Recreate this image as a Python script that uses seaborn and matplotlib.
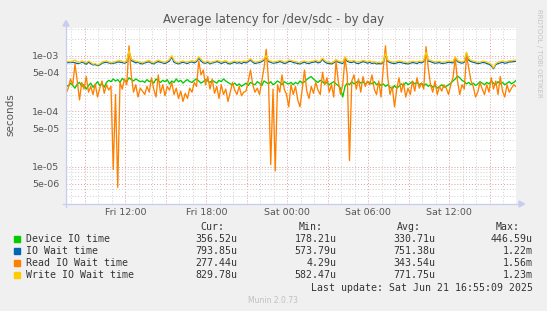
import numpy as np
import pandas as pd
import matplotlib
matplotlib.use("Agg")
import matplotlib.pyplot as plt
import seaborn as sns
from matplotlib.patches import Polygon, Rectangle
from matplotlib.lines import Line2D

# ---------------- data (values in microseconds) ----------------
START_HOUR = 7.6      # hours after Fri 00:00 at the left edge
STEP_MIN = 10         # sample step

device_io_us = [
    300, 280, 320, 290, 260, 310, 330, 280, 300, 250, 290, 320, 270, 300, 340, 290, 310, 270, 330, 360,
    340, 380, 350, 370, 330, 390, 360, 340, 400, 370, 350, 380, 360, 340,
    350, 330, 370, 340, 360, 320, 380, 350, 330, 360, 340, 370, 310, 350, 330, 380, 340, 360, 320, 350,
    370, 340, 330, 360, 380, 350, 320, 340, 370, 350, 330, 360, 340, 320,
    360, 340, 380, 350, 330, 310, 300, 320, 290, 310, 280, 300, 320, 290, 330, 310, 300, 340, 320, 290,
    350, 330, 310, 340, 300, 320, 350, 330, 300, 340, 320, 310, 330,
    300, 330, 310, 350, 320, 340, 370, 400, 420, 380, 350, 330, 360, 340, 310, 330, 300, 320, 340, 310,
    290, 260, 180, 280, 320, 300, 340, 310, 330, 350, 320, 340, 310, 330,
    330, 310, 340, 300, 320, 290, 310, 280, 300, 270, 250, 290, 260, 280, 310, 290, 330, 300, 320, 340,
    310, 330, 300, 320, 290, 310, 280, 300, 270, 290, 260, 280, 300, 270,
    280, 300, 320, 350, 380, 430, 400, 360, 340, 310, 330, 300, 320, 290, 310, 340, 320, 300, 330, 310,
    350, 320, 300, 340, 310, 330, 300, 320, 340, 310, 330, 357,
]

io_wait_us = [
    740, 750, 750, 760, 740, 720, 730, 760, 740, 700,
    760, 720, 680, 690, 660, 680, 730, 750, 760, 740,
    720, 730, 740, 770, 760, 750, 730, 760, 1200, 820,
    780, 740, 760, 720, 710, 740, 760, 770, 730, 710,
    750, 780, 760, 740, 720, 760, 800, 950, 760, 730,
    710, 740, 760, 740, 720, 760, 770, 740, 780, 900,
    800, 740, 730, 760, 710, 740, 750, 780, 760, 720,
    750, 770, 720, 710, 740, 760, 730, 750, 720, 760,
    740, 780, 840, 760, 720, 740, 750, 780, 830, 960,
    780, 760, 730, 740, 750, 780, 760, 720, 740, 780,
    790, 750, 740, 720, 710, 740, 760, 730, 720, 750,
    760, 780, 740, 760, 860, 770, 730, 720, 710, 740,
    800, 760, 740, 720, 900, 790, 760, 750, 780, 730,
    720, 750, 780, 760, 730, 760, 720, 740, 710, 720,
    710, 760, 1050, 790, 750, 730, 720, 740, 760, 750,
    730, 720, 710, 730, 750, 740, 720, 760, 740, 780,
    1100, 800, 780, 750, 730, 740, 750, 720, 730, 740,
    760, 750, 740, 900, 780, 750, 730, 760, 1100, 830,
    780, 760, 740, 720, 730, 750, 750, 720, 700, 660,
    580, 690, 720, 740, 760, 730, 740, 770, 770, 780,
    794,
]

read_io_wait_us = [
    210, 260, 380, 300, 700, 350, 160, 330, 250, 420, 220, 280, 200, 310, 180, 260, 350, 210, 300, 240,
    280, 9, 200, 4.3, 330, 250, 380, 300, 1500, 450, 220, 300, 180, 260,
    230, 200, 280, 220, 400, 250, 180, 450, 210, 300, 190, 280, 240, 330, 200, 260, 170, 230, 150, 210,
    170, 260, 220, 330, 280, 800, 450, 550, 300, 420, 250, 380, 210, 280,
    170, 300, 200, 250, 150, 220, 330, 240, 200, 280, 190, 220, 230, 350, 550, 300, 220, 260, 200, 350,
    600, 1300, 350, 11, 250, 8.5, 300, 220, 450, 250, 200, 120, 300,
    200, 280, 160, 120, 250, 550, 230, 170, 280, 210, 330, 240, 200, 500, 300, 400, 220, 300, 180, 800,
    350, 200, 300, 900, 450, 13, 350, 450, 250, 380, 220, 420, 280, 350,
    300, 450, 250, 200, 350, 180, 600, 1500, 400, 200, 280, 120, 250, 400, 220, 320, 180, 260, 200, 350,
    230, 400, 260, 320, 250, 1450, 600, 300, 220, 350, 200, 280, 230, 300,
    260, 200, 300, 400, 900, 350, 200, 300, 250, 1000, 600, 350, 280, 180, 220, 330, 250, 200, 300, 220,
    400, 250, 350, 200, 420, 230, 180, 300, 220, 260, 300, 277,
]

write_io_wait_us = [
    760, 790, 770, 800, 830, 780, 750, 800, 770, 740,
    800, 760, 700, 720, 680, 710, 760, 790, 800, 770,
    740, 760, 780, 810, 820, 790, 760, 800, 1230, 860,
    830, 790, 780, 760, 740, 770, 800, 820, 760, 740,
    790, 830, 800, 770, 760, 800, 850, 1000, 820, 760,
    740, 780, 800, 770, 760, 790, 810, 780, 820, 950,
    860, 780, 760, 800, 740, 770, 780, 820, 800, 760,
    790, 810, 760, 740, 780, 800, 770, 790, 760, 800,
    780, 820, 880, 800, 760, 770, 790, 820, 870, 1000,
    820, 800, 760, 780, 790, 820, 800, 760, 780, 830,
    820, 790, 780, 760, 740, 780, 800, 770, 760, 790,
    800, 830, 780, 800, 900, 810, 770, 760, 740, 780,
    850, 800, 780, 760, 950, 830, 800, 790, 820, 770,
    760, 790, 820, 800, 770, 800, 760, 780, 740, 760,
    740, 800, 1100, 830, 790, 770, 760, 780, 800, 790,
    770, 760, 740, 770, 790, 780, 760, 800, 780, 820,
    1150, 850, 820, 790, 770, 780, 790, 760, 760, 780,
    800, 790, 780, 950, 820, 790, 770, 800, 1150, 880,
    820, 800, 780, 760, 760, 790, 790, 760, 740, 700,
    600, 720, 760, 780, 800, 770, 780, 810, 810, 820,
    830,
]

series_names = ["Device IO time", "IO Wait time", "Read IO Wait time", "Write IO Wait time"]
series_colors = ["#00CC00", "#0066B3", "#FF8000", "#FFCC00"]
cur_vals = ["356.52u", "793.85u", "277.44u", "829.78u"]
min_vals = ["178.21u", "573.79u", "4.29u", "582.47u"]
avg_vals = ["330.71u", "751.38u", "343.54u", "771.75u"]
max_vals = ["446.59u", "1.22m", "1.56m", "1.23m"]

xtick_hours = [12, 18, 24, 30, 36]
xtick_labels = ["Fri 12:00", "Fri 18:00", "Sat 00:00", "Sat 06:00", "Sat 12:00"]
ytick_values = [1e-3, 5e-4, 1e-4, 5e-5, 1e-5, 5e-6]
ytick_labels = ["1e-03", "5e-04", "1e-04", "5e-05", "1e-05", "5e-06"]

title_text = "Average latency for /dev/sdc - by day"
last_update = "Last update: Sat Jun 21 16:55:09 2025"

# ---------------- figure ----------------
W, H = 547, 311
BG = "#F0F0F0"
fig = plt.figure(figsize=(W / 100, H / 100), dpi=100, facecolor=BG)

L, R, T, B = 66, 516, 28, 204
ax = fig.add_axes([L / W, 1 - B / H, (R - L) / W, (B - T) / H])
ax.set_facecolor("white")


def frame(values, name):
    n = len(values)
    return pd.DataFrame({
        "hours": START_HOUR + np.arange(n) * STEP_MIN / 60.0,
        "seconds": np.asarray(values, dtype=float) * 1e-6,
        "series": name,
    })


frames = [
    frame(device_io_us, series_names[0]),
    frame(io_wait_us, series_names[1]),
    frame(read_io_wait_us, series_names[2]),
    frame(write_io_wait_us, series_names[3]),
]

x_end = START_HOUR + (len(read_io_wait_us) - 1) * STEP_MIN / 60.0
ymin, ymax = 2.16e-6, 3.13e-3

# grid
MAJ, MIN = "#E39A9A", "#CFCFCF"
for h in range(8, 41):
    major = (h % 3 == 0)
    ax.axvline(h, color=MAJ if major else MIN, lw=0.7,
               linestyle=(0, (1, 2)), zorder=0.5)
for d in range(-6, -1):
    for m in range(1, 10):
        v = m * 10.0 ** d
        if ymin < v < ymax:
            major = m in (1, 5)
            ax.axhline(v, color=MAJ if major else MIN, lw=0.7,
                       linestyle=(0, (1, 2)), zorder=0.5)

for df, col in zip(frames, series_colors):
    sns.lineplot(data=df, x="hours", y="seconds", color=col, lw=0.95,
                 estimator=None, sort=False, legend=False, ax=ax, zorder=3)

ax.set_yscale("log")
ax.set_xlim(START_HOUR, x_end)
ax.set_ylim(ymin, ymax)
ax.set_xticks(xtick_hours)
ax.set_xticklabels(xtick_labels)
ax.set_yticks(ytick_values)
ax.set_yticklabels(ytick_labels)
ax.minorticks_off()
ax.tick_params(axis="both", length=0, labelsize=6.8, colors="#555555")
ax.tick_params(axis="y", pad=4.7)
ax.tick_params(axis="x", pad=3.2)
ax.set_xlabel("")
ax.set_ylabel("")
for s in ax.spines.values():
    s.set_visible(False)


def fx(px):
    return px / W


def fy(py):
    return 1 - py / H


# axis lines with arrows
AX_COL = "#C8CCEE"
fig.add_artist(Line2D([fx(L), fx(L)], [fy(B + 3), fy(25)], color=AX_COL, lw=0.9,
                      transform=fig.transFigure))
fig.add_artist(Line2D([fx(L - 3), fx(520)], [fy(B), fy(B)], color=AX_COL, lw=0.9,
                      transform=fig.transFigure))
fig.add_artist(Polygon([[fx(L - 3), fy(26)], [fx(L + 3), fy(26)], [fx(L), fy(20.5)]],
                       closed=True, color=AX_COL, transform=fig.transFigure))
fig.add_artist(Polygon([[fx(519), fy(B - 3)], [fx(519), fy(B + 3)], [fx(524.5), fy(B)]],
                       closed=True, color=AX_COL, transform=fig.transFigure))

# title / labels
fig.text(0.5, fy(23.3), title_text, ha="center", va="baseline",
         fontsize=8.5, color="#555555", family="DejaVu Sans")
fig.text(fx(10), fy(115), "seconds", rotation=90, ha="center", va="center",
         fontsize=7.5, color="#555555", family="DejaVu Sans")
fig.text(fx(538.5), fy(53), "RRDTOOL / TOBI OETIKER", rotation=270, ha="center",
         va="center", fontsize=5, color="#C4C4C4", family="DejaVu Sans")

# legend table
MONO = "DejaVu Sans Mono"
TXT = "#333333"
FS = 7.1
header_y = 226.7
row_ys = [239.3, 251.3, 263.3, 275.3]
val_right = [237.3, 336.7, 435.0, 532.7]
head_right = [224.3, 322.7, 420.7, 519.3]
for hx, head in zip(head_right, ["Cur:", "Min:", "Avg:", "Max:"]):
    fig.text(fx(hx), fy(header_y), head, ha="right", va="center",
             fontsize=FS, family=MONO, color=TXT)
for i, (name, col) in enumerate(zip(series_names, series_colors)):
    y = row_ys[i]
    fig.add_artist(Rectangle((fx(14), fy(y + 3)), 6 / W, 6 / H, color=col,
                             transform=fig.transFigure))
    fig.text(fx(26), fy(y), name, ha="left", va="center", fontsize=FS,
             family=MONO, color=TXT)
    for vx, vals in zip(val_right, [cur_vals, min_vals, avg_vals, max_vals]):
        fig.text(fx(vx), fy(y), vals[i], ha="right", va="center", fontsize=FS,
                 family=MONO, color=TXT)
fig.text(fx(532.7), fy(287.7), last_update, ha="right", va="center",
         fontsize=FS, family=MONO, color=TXT)
fig.text(fx(272.5), fy(300.5), "Munin 2.0.73", ha="center", va="center",
         fontsize=5.5, color="#C0C0C0", family="DejaVu Sans")

fig.savefig("out.png", dpi=100, facecolor=BG)
